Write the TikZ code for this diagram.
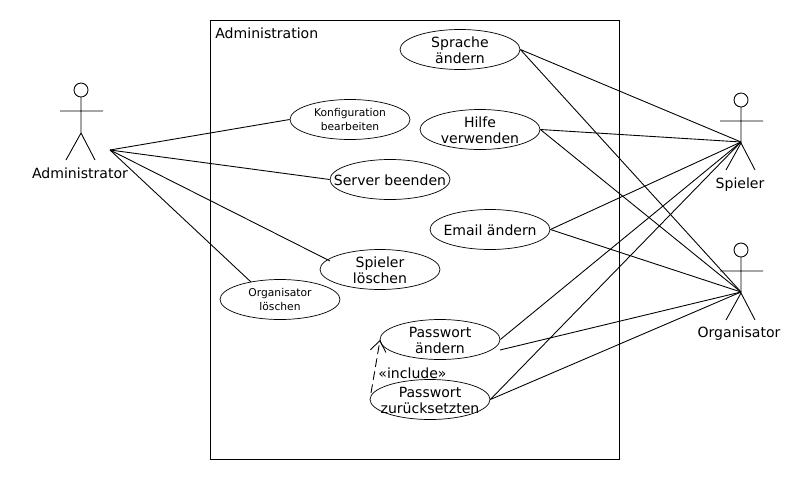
\documentclass[tikz,border=0pt]{standalone}
\usepackage{fontspec}
\setmainfont{DejaVu Sans}
\usetikzlibrary{positioning, arrows.meta, shapes.geometric}

\begin{document}
\begin{tikzpicture}[
    x=0.02cm, y=-0.02cm,
    usecase/.style={ellipse, draw=black, fill=white, inner xsep=-1.2cm, inner ysep=-0.4cm,
                    minimum width=2.4cm, minimum height=0.8cm, text height=16.2pt,
                    align=center, font=\fontsize{8}{9.1}\selectfont},
    onelinecase/.style={usecase, text height=7.2pt},
    smallcase/.style={usecase, text height=12.2pt, font=\fontsize{6.1}{7.6}\selectfont},
    label/.style={font=\fontsize{8}{9}\selectfont, inner sep=0pt},
    link/.style={draw=black, line width=0.5pt},
    include/.style={link, dashed, dash pattern=on 5pt off 2.5pt, -{Straight Barb[length=6pt,width=9pt]}},
    pics/actor/.style={code={
      \draw[line width=0.5pt] (0,-7) circle[radius=7];
      \draw[line width=0.5pt] (0,0) -- (0,36) (-21,14) -- (22,14)
        (-15,63) -- (0,36) -- (14,63);
    }}
  ]
    \useasboundingbox (0,0) rectangle (810,480);

    % System boundary
    \node[draw=black, line width=0.5pt, minimum width=8.18cm, minimum height=8.78cm, inner sep=0pt] (system) at (414.5,239.5) {};
    \node[label, anchor=west] (systemname) at (215,33) {Administration};

    % Actors
    \pic at (81,97) {actor};
    \pic at (741,107) {actor};
    \pic at (741,257) {actor};
    \node[label] (administrator) at (80,173) {Administrator};
    \node[label] (spieler) at (740,185) {Spieler};
    \node[label] (organisator) at (739,334) {Organisator};

    % Connection points of the actors
    \coordinate (adminhand) at (110,150);
    \coordinate (spielerhip) at (741,142);
    \coordinate (orghip) at (741,292);

    % Use cases
    \node[usecase] (sprache) at (460,49.5) {Sprache\\ändern};
    \node[smallcase] (konfig) at (350,119.5) {Konfiguration\\bearbeiten};
    \node[usecase] (hilfe) at (480,129.5) {Hilfe\\verwenden};
    \node[onelinecase] (server) at (390,179.5) {Server beenden};
    \node[onelinecase] (email) at (490,229.5) {Email ändern};
    \node[usecase] (spielerdel) at (380,269.5) {Spieler\\löschen};
    \node[smallcase] (orgdel) at (280,299.5) {Organisator\\löschen};
    \node[usecase] (pwchange) at (440,339.5) {Passwort\\ändern};
    \node[usecase] (pwreset) at (430,399.5) {Passwort\\zurücksetzten};
    \node[label] (includelabel) at (412.5,373) {«include»};

    % Free ends at the use cases
    \coordinate (orgdelend) at (251,282);
    \coordinate (spielerdelend) at (330,261);
    \coordinate (pwchangeend) at (500,350);
    \coordinate (includestart) at (371,393);
    \coordinate (includeend) at (380,340);

    % Administrator
    \draw[link] (adminhand) -- (konfig.west);
    \draw[link] (adminhand) -- (server.west);
    \draw[link] (adminhand) -- (spielerdelend);
    \draw[link] (adminhand) -- (orgdelend);

    % Spieler
    \draw[link] (sprache.east) -- (spielerhip);
    \draw[link] (hilfe.east) -- (spielerhip);
    \draw[link] (email.east) -- (spielerhip);
    \draw[link] (pwchange.east) -- (spielerhip);
    \draw[link] (pwreset.east) -- (spielerhip);

    % Organisator
    \draw[link] (sprache.east) -- (orghip);
    \draw[link] (hilfe.east) -- (orghip);
    \draw[link] (email.east) -- (orghip);
    \draw[link] (pwchangeend) -- (orghip);
    \draw[link] (pwreset.east) -- (orghip);

    % Include
    \draw[include] (includestart) -- (includeend);

  \end{tikzpicture}
\end{document}
